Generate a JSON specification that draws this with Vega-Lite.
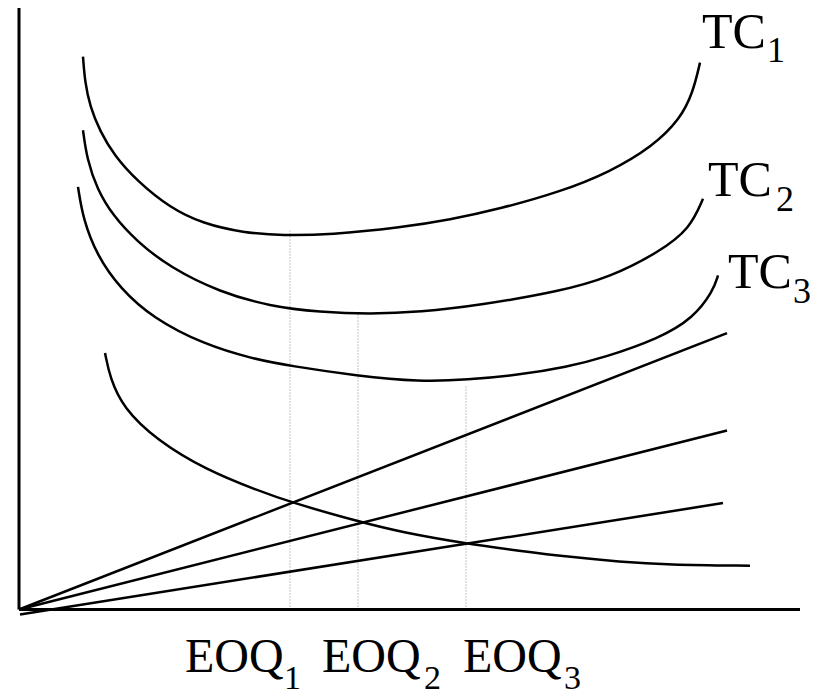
{
  "$schema": "https://vega.github.io/schema/vega-lite/v6.json",
  "width": 820,
  "height": 696,
  "autosize": {"type": "fit", "contains": "padding"},
  "padding": 0,
  "background": "white",
  "config": {"view": {"stroke": null}},
  "datasets": {
    "axes": [
      {"name": "yaxis", "x": 0, "y": 0, "x2": 0, "y2": 605},
      {"name": "xaxis", "x": 0, "y": 0, "x2": 781, "y2": 0}
    ],
    "curves": [
      {"s": "TC1", "x": 64, "y": 556}, {"s": "TC1", "x": 66, "y": 530}, {"s": "TC1", "x": 71, "y": 506},
      {"s": "TC1", "x": 81, "y": 481}, {"s": "TC1", "x": 95, "y": 457}, {"s": "TC1", "x": 118, "y": 431},
      {"s": "TC1", "x": 151, "y": 404}, {"s": "TC1", "x": 184, "y": 388}, {"s": "TC1", "x": 224, "y": 379},
      {"s": "TC1", "x": 264, "y": 376}, {"s": "TC1", "x": 311, "y": 377}, {"s": "TC1", "x": 381, "y": 384},
      {"s": "TC1", "x": 431, "y": 392}, {"s": "TC1", "x": 481, "y": 403}, {"s": "TC1", "x": 541, "y": 420},
      {"s": "TC1", "x": 591, "y": 440}, {"s": "TC1", "x": 634, "y": 466}, {"s": "TC1", "x": 661, "y": 493},
      {"s": "TC1", "x": 674, "y": 520}, {"s": "TC1", "x": 681, "y": 550},
      {"s": "TC2", "x": 64, "y": 482}, {"s": "TC2", "x": 68, "y": 453}, {"s": "TC2", "x": 78, "y": 423},
      {"s": "TC2", "x": 94, "y": 396}, {"s": "TC2", "x": 118, "y": 370}, {"s": "TC2", "x": 151, "y": 344},
      {"s": "TC2", "x": 201, "y": 319}, {"s": "TC2", "x": 251, "y": 305}, {"s": "TC2", "x": 301, "y": 299},
      {"s": "TC2", "x": 351, "y": 297}, {"s": "TC2", "x": 401, "y": 299}, {"s": "TC2", "x": 461, "y": 306},
      {"s": "TC2", "x": 541, "y": 320}, {"s": "TC2", "x": 591, "y": 334}, {"s": "TC2", "x": 641, "y": 360},
      {"s": "TC2", "x": 671, "y": 383}, {"s": "TC2", "x": 684, "y": 413},
      {"s": "TC3", "x": 59, "y": 425}, {"s": "TC3", "x": 64, "y": 393}, {"s": "TC3", "x": 78, "y": 356},
      {"s": "TC3", "x": 101, "y": 323}, {"s": "TC3", "x": 134, "y": 293}, {"s": "TC3", "x": 184, "y": 267},
      {"s": "TC3", "x": 234, "y": 252}, {"s": "TC3", "x": 271, "y": 245}, {"s": "TC3", "x": 338, "y": 235},
      {"s": "TC3", "x": 401, "y": 229}, {"s": "TC3", "x": 448, "y": 231}, {"s": "TC3", "x": 501, "y": 236},
      {"s": "TC3", "x": 548, "y": 244}, {"s": "TC3", "x": 584, "y": 253}, {"s": "TC3", "x": 641, "y": 273},
      {"s": "TC3", "x": 674, "y": 293}, {"s": "TC3", "x": 694, "y": 320}, {"s": "TC3", "x": 699, "y": 336},
      {"s": "OC", "x": 86, "y": 258}, {"s": "OC", "x": 91, "y": 233}, {"s": "OC", "x": 104, "y": 203},
      {"s": "OC", "x": 138, "y": 170}, {"s": "OC", "x": 188, "y": 140}, {"s": "OC", "x": 238, "y": 120},
      {"s": "OC", "x": 271, "y": 108}, {"s": "OC", "x": 341, "y": 88}, {"s": "OC", "x": 381, "y": 78},
      {"s": "OC", "x": 448, "y": 66}, {"s": "OC", "x": 501, "y": 59}, {"s": "OC", "x": 548, "y": 53},
      {"s": "OC", "x": 601, "y": 48}, {"s": "OC", "x": 648, "y": 45}, {"s": "OC", "x": 731, "y": 44},
      {"s": "HC1", "x": 0, "y": 0}, {"s": "HC1", "x": 708, "y": 278},
      {"s": "HC2", "x": 0, "y": 0}, {"s": "HC2", "x": 708, "y": 180},
      {"s": "HC3", "x": 1, "y": -5}, {"s": "HC3", "x": 704, "y": 107}
    ],
    "eoq": [
      {"q": "EOQ1", "x": 271, "y": 0, "y2": 381},
      {"q": "EOQ2", "x": 339, "y": 0, "y2": 297},
      {"q": "EOQ3", "x": 447, "y": 0, "y2": 225}
    ],
    "bigLabels": [
      {"t": "TC", "x": 683, "y": 565},
      {"t": "TC", "x": 689, "y": 416},
      {"t": "TC", "x": 709, "y": 323}
    ],
    "bigSubs": [
      {"t": "1", "x": 748, "y": 551},
      {"t": "2", "x": 757, "y": 401},
      {"t": "3", "x": 774, "y": 308}
    ],
    "eoqLabels": [
      {"t": "EOQ", "x": 166, "y": -63},
      {"t": "EOQ", "x": 303, "y": -63},
      {"t": "EOQ", "x": 444, "y": -63}
    ],
    "eoqSubs": [
      {"t": "1", "x": 265, "y": -80},
      {"t": "2", "x": 405, "y": -80},
      {"t": "3", "x": 545, "y": -80}
    ]
  },
  "layer": [
    {
      "data": {"name": "eoq"},
      "mark": {"type": "rule", "color": "#8a8a8a", "strokeWidth": 1, "strokeDash": [1, 2]},
      "encoding": {
        "x": {"field": "x", "type": "quantitative", "scale": {"domain": [-19, 801], "nice": false, "zero": false}, "axis": null},
        "y": {"field": "y", "type": "quantitative", "scale": {"domain": [-83, 613], "nice": false, "zero": false}, "axis": null},
        "y2": {"field": "y2"}
      }
    },
    {
      "data": {"name": "axes"},
      "mark": {"type": "rule", "color": "black", "strokeWidth": 3},
      "encoding": {
        "x": {"field": "x", "type": "quantitative"},
        "y": {"field": "y", "type": "quantitative"},
        "x2": {"field": "x2"},
        "y2": {"field": "y2"}
      }
    },
    {
      "data": {"name": "curves"},
      "mark": {"type": "line", "color": "black", "strokeWidth": 2.5, "interpolate": "basis"},
      "encoding": {
        "x": {"field": "x", "type": "quantitative"},
        "y": {"field": "y", "type": "quantitative"},
        "detail": {"field": "s", "type": "nominal"}
      }
    },
    {
      "data": {"name": "bigLabels"},
      "mark": {"type": "text", "font": "Liberation Serif, DejaVu Serif, serif", "fontSize": 50, "align": "left", "baseline": "alphabetic", "color": "black"},
      "encoding": {
        "x": {"field": "x", "type": "quantitative"},
        "y": {"field": "y", "type": "quantitative"},
        "text": {"field": "t"}
      }
    },
    {
      "data": {"name": "bigSubs"},
      "mark": {"type": "text", "font": "Liberation Serif, DejaVu Serif, serif", "fontSize": 36, "align": "left", "baseline": "alphabetic", "color": "black"},
      "encoding": {
        "x": {"field": "x", "type": "quantitative"},
        "y": {"field": "y", "type": "quantitative"},
        "text": {"field": "t"}
      }
    },
    {
      "data": {"name": "eoqLabels"},
      "mark": {"type": "text", "font": "Liberation Serif, DejaVu Serif, serif", "fontSize": 48, "align": "left", "baseline": "alphabetic", "color": "black"},
      "encoding": {
        "x": {"field": "x", "type": "quantitative"},
        "y": {"field": "y", "type": "quantitative"},
        "text": {"field": "t"}
      }
    },
    {
      "data": {"name": "eoqSubs"},
      "mark": {"type": "text", "font": "Liberation Serif, DejaVu Serif, serif", "fontSize": 34, "align": "left", "baseline": "alphabetic", "color": "black"},
      "encoding": {
        "x": {"field": "x", "type": "quantitative"},
        "y": {"field": "y", "type": "quantitative"},
        "text": {"field": "t"}
      }
    }
  ]
}
